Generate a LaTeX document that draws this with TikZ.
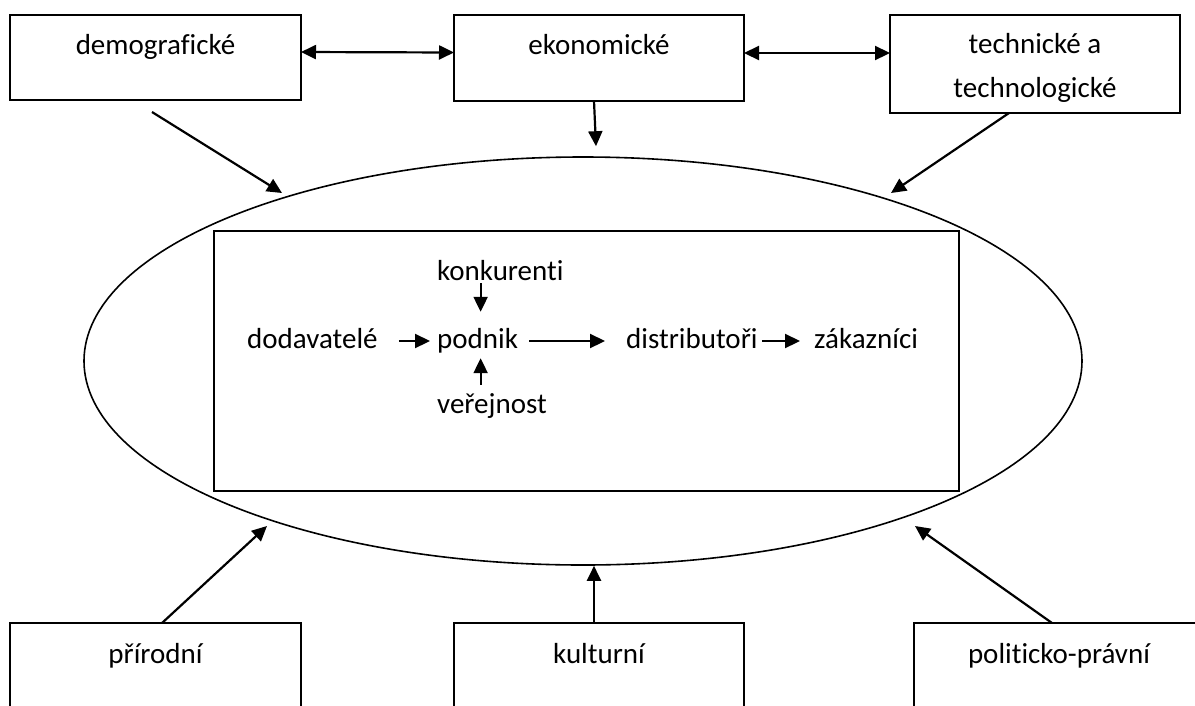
\documentclass[tikz,border=0pt]{standalone}
\usepackage{fontspec}
\setmainfont{Carlito}[Ligatures=NoCommon]
\usetikzlibrary{arrows.meta,shapes.geometric}
\begin{document}
\begin{tikzpicture}[x=1pt,y=-1pt,
  every node/.style={font=\fontsize{29}{44}\selectfont},
  box/.style={draw, line width=1.5pt, anchor=north west, inner sep=0pt, outer sep=0pt},
  lbl/.style={anchor=base, inner sep=0pt},
  word/.style={anchor=base west, inner sep=0pt, text height=14pt, text depth=0pt},
  arr/.style={line width=2.2pt, -{Triangle[length=15pt,width=14pt]}},
  darr/.style={line width=2.2pt, {Triangle[length=15pt,width=14pt]}-{Triangle[length=15pt,width=14pt]}},
]
\useasboundingbox (0,0) rectangle (1195,705);

% environment factors, top row
\node[box, minimum width=291pt, minimum height=85pt] (demo) at (10,15) {};
\node[lbl] (demoT) at (155.5,54) {demografické};
\node[box, minimum width=290pt, minimum height=86pt] (eko) at (454,15) {};
\node[lbl] (ekoT) at (599,54) {ekonomické};
\node[box, minimum width=290pt, minimum height=98pt] (tech) at (890,15) {};
% base of a two-line node is the baseline of its last line
\node[lbl, align=center] (techT) at (1035,97) {technické a\\technologické};

% environment factors, bottom row
\node[box, minimum width=291pt, minimum height=100pt] (prir) at (10,623) {};
\node[lbl] (prirT) at (155.5,663) {přírodní};
\node[box, minimum width=290pt, minimum height=100pt] (kult) at (454,623) {};
\node[lbl] (kultT) at (599,663) {kulturní};
\node[box, minimum width=290pt, minimum height=100pt] (polit) at (914,623) {};
\node[lbl] (politT) at (1059,663) {politicko-právní};

% macro environment and the firm's micro environment
\node[draw, ellipse, line width=1.6pt, minimum width=998pt, minimum height=408pt, inner sep=0pt] (env) at (583,361) {};
\node[box, line width=1.6pt, minimum width=745pt, minimum height=260pt] (firm) at (214,231) {};

\node[word] (dod) at (247,348) {dodavatelé};
\node[word] (pod) at (437,348) {podnik};
\node[word] (kon) at (437,280) {konkurenti};
\node[word] (ver) at (437,413) {veřejnost};
\node[word] (dist) at (626,348) {distributoři};
\node[word] (zak) at (814,348) {zákazníci};

% micro environment flows
\draw[arr, shorten <=21pt, shorten >=7pt] (dod.east) -- (pod.west);
\draw[arr, shorten <=11pt, shorten >=21pt] (pod.east) -- (dist.west);
\draw[arr, shorten <=4pt, shorten >=14pt] (dist.east) -- (zak.west);
\draw[arr, shorten <=3pt, shorten >=22pt] ([xshift=3pt]pod.north |- kon.south) -- ([xshift=3pt]pod.north);
\draw[arr, shorten <=14pt, shorten >=10pt] ([xshift=3pt]pod.south |- ver.north) -- ([xshift=3pt]pod.south);

% links between factors
\draw[darr] ([yshift=5.5pt]demo.east) -- ([yshift=5.5pt]eko.west);
\draw[darr] ([yshift=5pt]eko.east) -- ([yshift=11pt]tech.west);
\draw[darr] ([yshift=-45pt]prir.east) -- ([yshift=-45pt]kult.west);
\draw[darr] ([yshift=-45pt]kult.east) -- ([yshift=-45pt]polit.west);

% influences on the environment
\coordinate (dtip) at (282,193);
\coordinate (ttip) at (891,193);
\coordinate (ptip) at (267,526);
\coordinate (ltip) at (915,526);
\draw[arr] ([xshift=-3.5pt,yshift=-12pt]demo.south) -- (dtip);
\draw[arr] ([xshift=-5pt]eko.south) -- ([xshift=13pt,yshift=10pt]env.north);
\draw[arr] ([xshift=-26pt]tech.south) -- (ttip);
\draw[arr] ([xshift=6.5pt]prir.north) -- (ptip);
\draw[arr] ([xshift=-5pt]kult.north) -- ([xshift=11pt]env.south);
\draw[arr] ([xshift=-7pt]polit.north) -- (ltip);
\end{tikzpicture}
\end{document}
